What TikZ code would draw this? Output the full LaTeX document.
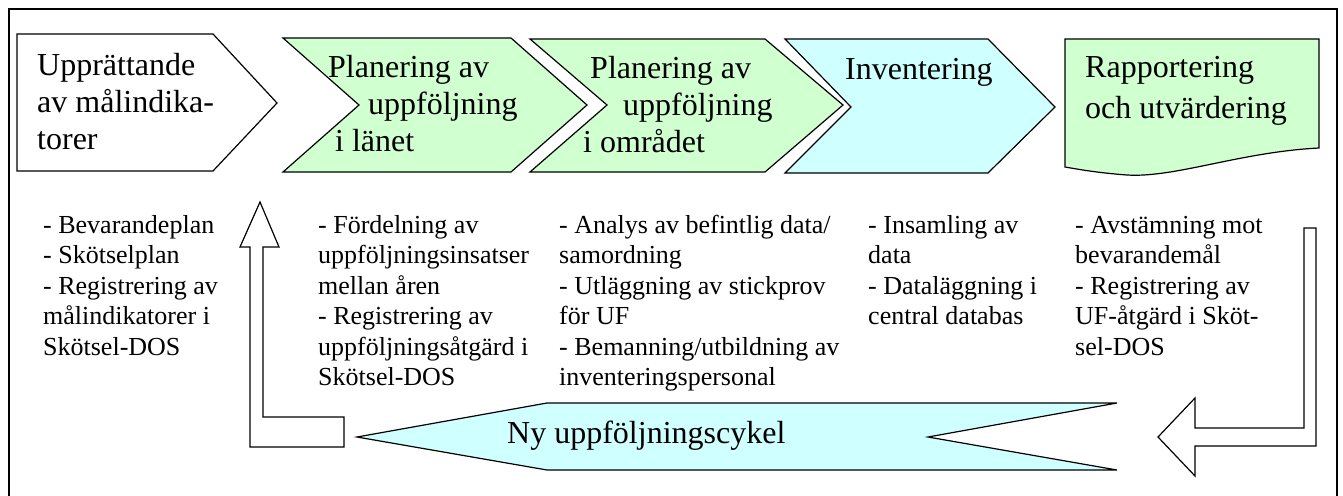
\documentclass[tikz,border=0pt]{standalone}
\usepackage{fontspec}
\setmainfont{Liberation Serif}
\usetikzlibrary{positioning}
\definecolor{stagegreen}{RGB}{208,255,208}
\definecolor{stagecyan}{RGB}{208,255,255}

\begin{document}
\begin{tikzpicture}[x=1pt,y=-1pt,line join=miter,
  shapeline/.style={draw=black,line width=1.2pt},
  headtext/.style={anchor=north west,inner sep=0pt,align=left,font=\fontsize{32}{37}\selectfont},
  listtext/.style={anchor=north west,inner sep=0pt,align=left,font=\fontsize{26}{30.5}\selectfont}]
\useasboundingbox (0,0) rectangle (1343,495);
\draw[line width=1.2pt] (9,9) rectangle (1337,520);

% the five stages
\draw[shapeline,fill=white] (17,34) -- (213,34) -- (277,103) -- (213,171) -- (17,171) -- cycle;
\draw[shapeline,fill=stagegreen] (283,38) -- (511,38) -- (587,105) -- (511,172) -- (283,172) -- (359,105) -- cycle;
\draw[shapeline,fill=stagegreen] (530,39) -- (765,39) -- (843,105) -- (765,172) -- (530,172) -- (607,105) -- cycle;
\draw[shapeline,fill=stagecyan] (785,39) -- (988,39) -- (1055,107) -- (988,173) -- (785,173) -- (851,107) -- cycle;
\draw[shapeline,fill=stagegreen] (1065,39) -- (1319,39) -- (1319,148)
  .. controls (1240,152) and (1175,178) .. (1127,175)
  .. controls (1100,173) and (1082,170) .. (1065,167) -- cycle;

\node[headtext] (upprattande) at (37,49.1) {\strut Upprättande\\av målindika-\\torer};
\node[headtext] (planlan) at (328,51.1) {\strut Planering av\\\hspace*{40pt}uppföljning\\\hspace*{7pt}i länet};
\node[headtext] (planomr) at (583,52.1) {\strut\hspace*{7pt}Planering av\\\hspace*{40pt}uppföljning\\i området};
\node[headtext,anchor=base west] (inventering) at (845,79) {Inventering};
\node[headtext,font=\fontsize{32}{41}\selectfont] (rapport) at (1085,48.3) {\strut Rapportering\\och utvärdering};

% what each stage contains
\node[listtext] (lista) at (43,211.6) {\strut - Bevarandeplan\\- Skötselplan\\- Registrering av\\målindikatorer i\\Skötsel-DOS};
\node[listtext] (listb) at (318,211.6) {\strut - Fördelning av\\uppföljningsinsatser\\mellan åren\\- Registrering av\\uppföljningsåtgärd i\\Skötsel-DOS};
\node[listtext] (listc) at (559,211.6) {\strut - Analys av befintlig data/\\samordning\\- Utläggning av stickprov\\för UF\\- Bemanning/utbildning av\\inventeringspersonal};
\node[listtext] (listd) at (868,211.6) {\strut - Insamling av\\data\\- Dataläggning i\\central databas};
\node[listtext] (liste) at (1075,211.6) {\strut - Avstämning mot\\bevarandemål\\- Registrering av\\UF-åtgärd i Sköt-\\sel-DOS};

% return loop
\draw[shapeline,fill=white] (1304,228) -- (1316,228) -- (1316,446) -- (1195,446) -- (1195,476)
  -- (1158,437) -- (1195,398) -- (1195,428) -- (1304,428) -- cycle;
\draw[shapeline,fill=stagecyan] (357,437) -- (547,403) -- (1117,403) -- (928,437) -- (1117,470) -- (547,470) -- cycle;
\draw[shapeline,fill=white] (260,202) -- (279,247) -- (263,247) -- (263,417) -- (344,417) -- (344,447)
  -- (250,447) -- (250,247) -- (240,247) -- cycle;
\node[headtext,anchor=base west] (nycykel) at (507,443) {Ny uppföljningscykel};
\end{tikzpicture}
\end{document}
